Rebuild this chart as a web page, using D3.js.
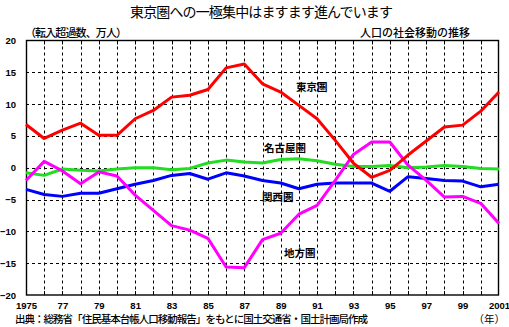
<!DOCTYPE html>
<html><head><meta charset="utf-8">
<script src="https://cdn.jsdelivr.net/npm/d3@7"></script>
<style>body{margin:0;background:#fff}svg{display:block}text{font-family:"Liberation Sans","Noto Sans CJK JP",sans-serif}</style>
</head><body>
<script>
const years = d3.range(1975, 2002);
const tokyo = [6.8,4.6,5.9,7.0,5.1,5.1,7.7,9.0,11.1,11.4,12.3,15.7,16.3,13.2,11.9,9.8,7.7,4.3,0.7,-1.5,-0.4,2.0,4.2,6.4,6.7,8.9,11.9];
const nagoya = [-0.8,-1.2,-0.2,-0.4,-0.5,-0.2,0,0,-0.3,-0.1,0.75,1.2,0.9,0.75,1.3,1.4,1.1,0.55,0.2,0.2,0.35,0.0,0.1,0.35,0.2,-0.1,-0.2];
const kansai = [-3.4,-4.2,-4.5,-4.0,-4.0,-3.3,-2.6,-2.0,-1.2,-0.9,-1.8,-0.8,-1.3,-2.0,-2.4,-3.3,-2.6,-2.4,-2.4,-2.4,-3.7,-1.4,-1.7,-2.0,-2.1,-3.0,-2.6];
const chiho = [-2.0,1.0,-0.5,-2.5,-0.65,-1.3,-4.3,-6.7,-9.1,-9.8,-11.1,-15.6,-15.7,-11.3,-10.3,-7.3,-5.9,-2.0,2.1,4.05,4.05,0.4,-2.0,-4.6,-4.5,-5.6,-8.75];
const seriesNames = ["東京圏","名古屋圏","関西圏","地方圏"];
const seriesColors = ["#ff0000","#22dd22","#0000ff","#ff00ff"];
const yTicks = [20,15,10,5,0,-5,-10,-15,-20];
const xTickYears = [1975,1977,1979,1981,1983,1985,1987,1989,1991,1993,1995,1997,1999,2001];
const xTickLabels = ["1975","77","79","81","83","85","87","89","91","93","95","97","99","2001"];

const W=509,H=327;
const svg=d3.select("body").append("svg").attr("width",W).attr("height",H);
const L=26,R=499,T=40.5,B=295;
const x=d3.scaleLinear().domain([1975,2001]).range([L,R]);
const y=d3.scaleLinear().domain([-20,20]).range([B,T]);

// grid
const g=svg.append("g");
g.selectAll(".vg").data(years.slice(1,-1)).join("line")
 .attr("x1",d=>Math.round(x(d))+0.5).attr("x2",d=>Math.round(x(d))+0.5).attr("y1",T).attr("y2",B)
 .attr("stroke","#000").attr("stroke-width",1).attr("stroke-dasharray","3,3");
g.selectAll(".hg").data(yTicks.slice(1,-1)).join("line")
 .attr("x1",L).attr("x2",R).attr("y1",d=>Math.round(y(d))+0.5).attr("y2",d=>Math.round(y(d))+0.5)
 .attr("stroke","#000").attr("stroke-width",1).attr("stroke-dasharray","3,3");

// axes
const yAxis=d3.axisLeft(y).tickValues(yTicks).tickSize(0).tickPadding(10).tickFormat(d3.format("d"));
const ya=svg.append("g").attr("transform",`translate(${L},0)`).call(yAxis);
ya.select(".domain").remove();
ya.selectAll("text").attr("font-size",9.5).attr("font-weight","bold").attr("fill","#000");
const xAxis=d3.axisBottom(x).tickValues(xTickYears).tickSize(0).tickPadding(7).tickFormat((d,i)=>xTickLabels[i]);
const xa=svg.append("g").attr("transform",`translate(0,${B})`).call(xAxis);
xa.select(".domain").remove();
xa.selectAll("text").attr("font-size",9.5).attr("font-weight","bold").attr("fill","#000");
// small ticks on top and bottom
svg.append("g").selectAll("line").data(years.slice(1,-1)).join("line")
 .attr("x1",d=>Math.round(x(d))+0.5).attr("x2",d=>Math.round(x(d))+0.5).attr("y1",B-4).attr("y2",B).attr("stroke","#000");
svg.append("g").selectAll("line").data(years.slice(1,-1)).join("line")
 .attr("x1",d=>Math.round(x(d))+0.5).attr("x2",d=>Math.round(x(d))+0.5).attr("y1",T).attr("y2",T+4).attr("stroke","#000");
// frame
svg.append("rect").attr("x",L+0.5).attr("y",T).attr("width",R-L-1).attr("height",B-T)
 .attr("fill","none").attr("stroke","#000").attr("stroke-width",1.4);

// lines
const data=[tokyo,nagoya,kansai,chiho];
const line=d3.line().x((d,i)=>x(years[i])).y(d=>y(d));
[1,2,3,0].forEach(k=>{
  svg.append("path").attr("d",line(data[k])).attr("fill","none")
   .attr("stroke",seriesColors[k]).attr("stroke-width",3).attr("stroke-linejoin","round");
});

// labels
const labPos=[[296,91],[264,152],[262,201],[284,257]];
seriesNames.forEach((n,i)=>{
  svg.append("text").attr("x",labPos[i][0]).attr("y",labPos[i][1]).attr("font-size",10.5)
   .attr("font-weight","bold").attr("fill","#000").text(n);
});

svg.append("text").attr("x",130).attr("y",17).attr("font-size",14).attr("textLength",263).attr("lengthAdjust","spacing")
 .attr("font-weight","normal").text("東京圏への一極集中はますます進んでいます");
svg.append("text").attr("x",25).attr("y",37).attr("font-size",11).attr("font-weight","500").attr("textLength",102).attr("lengthAdjust","spacing").text("（転入超過数、万人）");
svg.append("text").attr("x",360).attr("y",37).attr("font-size",11).attr("font-weight","500").attr("textLength",110).attr("lengthAdjust","spacing").text("人口の社会移動の推移");
svg.append("text").attr("x",15).attr("y",323).attr("font-size",10.5).attr("font-weight","500").attr("textLength",353).attr("lengthAdjust","spacing").text("出典：総務省「住民基本台帳人口移動報告」をもとに国土交通省・国土計画局作成");
svg.append("text").attr("x",505).attr("y",323).attr("text-anchor","end").attr("font-size",10.5).text("（年）");
</script>
</body></html>
